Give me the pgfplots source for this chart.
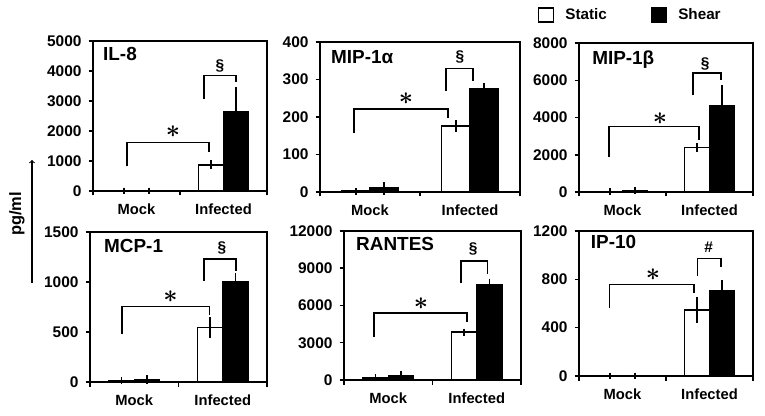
\documentclass[border=0pt]{standalone}
\usepackage{fontspec}
\setmainfont{Liberation Sans}
\usepackage{pgfplots}
\pgfplotsset{compat=1.18}
\pgfplotsset{
 panel/.style={
  scale only axis, xmin=-0.5, xmax=1.5, ymin=0, clip=false,
  axis line style={line width=1.5bp, black},
  every tick/.style={black, line width=1.5bp},
  tick align=outside, major tick length=4.5bp,
  xtick={-0.5,0.5,1.5}, x tick label as interval, xticklabels={Mock,Infected},
  xtick pos=lower, ytick pos=left,
  xticklabel style={font=\fontsize{14.8}{15}\selectfont\bfseries, yshift=-5bp},
  yticklabel style={font=\fontsize{15.5}{16}\selectfont\bfseries, xshift=-3.5bp},
  /pgf/number format/assume math mode=true, /pgf/number format/1000 sep={},
  scaled y ticks=false,
 },
 eb/.style={/pgfplots/error bars/y dir=both, /pgfplots/error bars/y explicit,
   /pgfplots/error bars/error bar style={line width=1.7bp, black},
   /pgfplots/error bars/error mark options={line width=1.7bp, mark size=3.3bp, black}},
 st/.style={ybar, bar width=0.285, bar shift=0, fill=white, draw=black, line width=1.5bp, eb},
 sh/.style={ybar, bar width=0.285, bar shift=0, fill=black, draw=black, line width=1.5bp, eb},
}
\tikzset{
 br/.style={line width=1.6bp},
 ttl/.style={anchor=base west, inner sep=0pt, font=\fontsize{19}{19}\selectfont\bfseries},
 sig/.style={inner sep=0pt, font=\fontsize{15.5}{15.5}\selectfont\bfseries},
 stb/.style={inner sep=0pt, font=\fontsize{27}{27}\selectfont\boldmath},
}
\begin{document}
\begin{tikzpicture}
\path[use as bounding box] (0,0) rectangle (765bp,416bp);

% IL-8
\begin{axis}[panel, at={(93bp,225bp)}, anchor=south west, width=174bp, height=150bp, ymax=5000, ytick distance=1000]
\addplot[st] table[x=x,y=y,y error=e] {
x y e
-0.1425 0 0
0.8575 870 40
};
\addplot[sh] table[x=x,y=y,y error=e] {
x y e
0.1425 0 0
1.1425 2650 700
};
\node[ttl] at (rel axis cs:0.057,0.873) {IL-8};
\draw[br] (axis cs:-0.11,820) |- (axis cs:0.833,1618) -- (axis cs:0.833,1286);
\node[stb] at (axis cs:0.42,1983) {$\ast$};
\draw[br] (axis cs:0.776,3080) |- (axis cs:1.144,3844) -- (axis cs:1.144,3645);
\node[sig] at (axis cs:0.96,4176) {§};
\end{axis}

% MIP-1a
\begin{axis}[panel, at={(320bp,224bp)}, anchor=south west, width=200bp, height=150bp, ymax=400, ytick distance=100]
\addplot[st] table[x=x,y=y,y error=e] {
x y e
-0.1425 2 0
0.8575 176 6
};
\addplot[sh] table[x=x,y=y,y error=e] {
x y e
0.1425 10 8
1.1425 274 9
};
\node[ttl] at (rel axis cs:0.055,0.858) {MIP-1α};
\draw[br] (axis cs:-0.16,156) |- (axis cs:0.78,222) -- (axis cs:0.78,196);
\node[stb] at (axis cs:0.36,249) {$\ast$};
\draw[br] (axis cs:0.76,269) |- (axis cs:1.03,329) -- (axis cs:1.03,295);
\node[sig] at (axis cs:0.9,360) {§};
\end{axis}

% MIP-1b
\begin{axis}[panel, at={(579bp,224bp)}, anchor=south west, width=174bp, height=149bp, ymax=8000, ytick distance=2000,
  legend style={at={(rel axis cs:-0.2356,1.188)}, anchor=west, draw=none, fill=none, inner sep=0pt, outer sep=0pt,
   font=\fontsize{15.3}{15.3}\selectfont\bfseries, legend columns=2,
   /tikz/every odd column/.append style={column sep=9bp},
   /tikz/every even column/.append style={column sep=42bp}}]
\addplot[st, legend image code/.code={\draw[fill=white, draw=black, line width=1.4bp] (0bp,-7bp) rectangle (15bp,7bp);}] table[x=x,y=y,y error=e] {
x y e
-0.1425 40 10
0.8575 2400 60
};
\addlegendentry{Static}
\addplot[sh, legend image code/.code={\draw[fill=black, draw=black, line width=1.4bp] (0bp,-7bp) rectangle (15bp,7bp);}] table[x=x,y=y,y error=e] {
x y e
0.1425 80 20
1.1425 4630 930
};
\addlegendentry{Shear}
\node[ttl] at (rel axis cs:0.075,0.858) {MIP-1β};
\draw[br] (axis cs:-0.155,1904) |- (axis cs:0.88,3508) -- (axis cs:0.88,2797);
\node[stb] at (axis cs:0.43,3957) {$\ast$};
\draw[br] (axis cs:0.81,5203) |- (axis cs:1.13,6396) -- (axis cs:1.13,6005);
\node[sig] at (axis cs:0.95,6898) {§};
\end{axis}

% MCP-1
\begin{axis}[panel, at={(90bp,34bp)}, anchor=south west, width=177bp, height=150bp, ymax=1500, ytick distance=500]
\addplot[st] table[x=x,y=y,y error=e] {
x y e
-0.1425 15 3
0.8575 546 70
};
\addplot[sh] table[x=x,y=y,y error=e] {
x y e
0.1425 25 10
1.1425 1000 55
};
\node[ttl] at (rel axis cs:0.079,0.865) {MCP-1};
\draw[br] (axis cs:-0.14,480) |- (axis cs:0.85,756) -- (axis cs:0.85,673);
\node[stb] at (axis cs:0.41,856) {$\ast$};
\draw[br] (axis cs:0.79,1006) |- (axis cs:1.15,1230) -- (axis cs:1.15,1106);
\node[sig] at (axis cs:0.99,1340) {§};
\end{axis}

% RANTES
\begin{axis}[panel, at={(344bp,36bp)}, anchor=south west, width=177bp, height=149bp, ymax=12000, ytick distance=3000]
\addplot[st] table[x=x,y=y,y error=e] {
x y e
-0.1425 180 30
0.8575 3850 30
};
\addplot[sh] table[x=x,y=y,y error=e] {
x y e
0.1425 330 150
1.1425 7700 200
};
\node[ttl] at (rel axis cs:0.068,0.872) {RANTES};
\draw[br] (axis cs:-0.16,3488) |- (axis cs:0.89,5403) -- (axis cs:0.89,4653);
\node[stb] at (axis cs:0.37,6145) {$\ast$};
\draw[br] (axis cs:0.82,7797) |- (axis cs:1.12,9600) -- (axis cs:1.12,8540);
\node[sig] at (axis cs:0.96,10590) {§};
\end{axis}

% IP-10
\begin{axis}[panel, at={(579bp,40bp)}, anchor=south west, width=174bp, height=145bp, ymax=1200, ytick distance=400]
\addplot[st] table[x=x,y=y,y error=e] {
x y e
-0.1425 0 0
0.8575 545 80
};
\addplot[sh] table[x=x,y=y,y error=e] {
x y e
0.1425 0 0
1.1425 704 60
};
\node[ttl] at (rel axis cs:0.067,0.88) {IP-10};
\draw[br] (axis cs:-0.15,559) |- (axis cs:0.82,757) -- (axis cs:0.82,683);
\node[stb] at (axis cs:0.35,842) {$\ast$};
\draw[br] (axis cs:0.86,826) |- (axis cs:1.13,972) -- (axis cs:1.13,903);
\node[sig] at (axis cs:0.99,1068) {\#};
\end{axis}

\node[rotate=90, inner sep=0pt, font=\fontsize{16.5}{16.5}\selectfont\bfseries] at (17bp,202bp) {pg/ml};
\draw[->, line width=1.1bp] (32bp,133bp) -- (32bp,256bp);
\end{tikzpicture}
\end{document}
